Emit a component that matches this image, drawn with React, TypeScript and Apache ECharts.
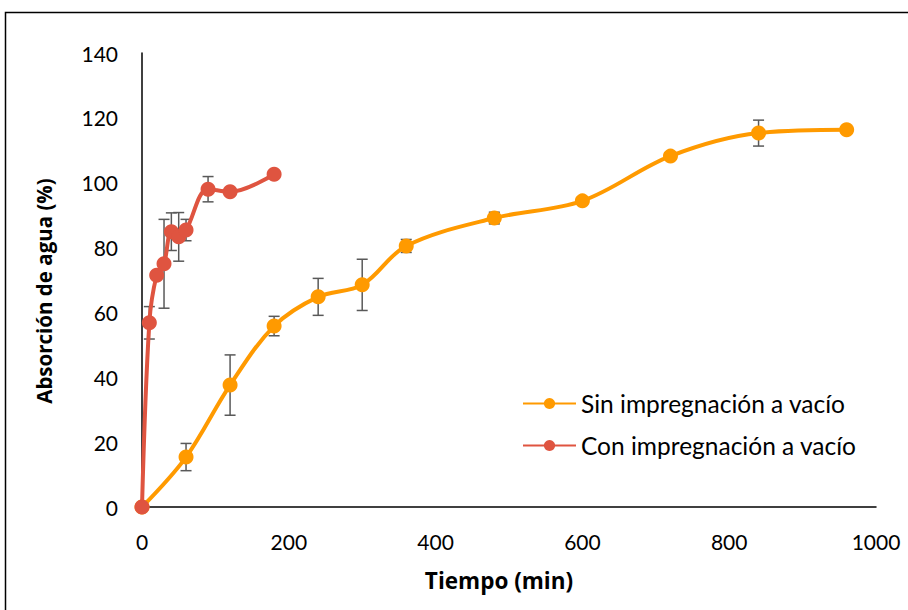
import React, { useEffect, useRef } from "react";
import * as echarts from "echarts";

const sinX = [0, 60, 120, 180, 240, 300, 360, 480, 600, 720, 840, 960];
const sinY = [0, 15.4, 37.6, 55.8, 64.8, 68.5, 80.5, 89.1, 94.4, 108.2, 115.3, 116.3];
const sinErr = [0, 4.2, 9.3, 3, 5.7, 7.9, 2, 1.8, 0, 0, 4, 0];

const conX = [0, 10, 20, 30, 40, 50, 60, 90, 120, 180];
const conY = [0, 56.8, 71.5, 75.0, 84.9, 83.3, 85.4, 98.0, 97.2, 102.6];
const conErr = [0, 5, 0, 13.7, 5.8, 7.5, 3.3, 3.9, 0, 0];

const xTicks = { min: 0, max: 1000, interval: 200 };
const yTicks = { min: 0, max: 140, interval: 20 };

const seriesNames = ["Sin impregnación a vacío", "Con impregnación a vacío"];

const FONT = "Lato, 'Open Sans', sans-serif";
const TITLE_FONT = "'Open Sans', Lato, sans-serif";

function errData(xs: number[], ys: number[], es: number[]) {
  const out: number[][] = [];
  xs.forEach((x, i) => {
    if (es[i] > 0) out.push([x, ys[i] - es[i], ys[i] + es[i]]);
  });
  return out;
}

function errSeries(data: number[][]) {
  return {
    type: "custom",
    silent: true,
    z: 1,
    data,
    renderItem: (params: any, api: any) => {
      const x = api.value(0);
      const lo = api.coord([x, api.value(1)]);
      const hi = api.coord([x, api.value(2)]);
      const cw = 5.5;
      const style = { stroke: "#595959", lineWidth: 1.5 };
      return {
        type: "group",
        children: [
          { type: "line", shape: { x1: lo[0], y1: lo[1], x2: hi[0], y2: hi[1] }, style },
          { type: "line", shape: { x1: lo[0] - cw, y1: lo[1], x2: lo[0] + cw, y2: lo[1] }, style },
          { type: "line", shape: { x1: hi[0] - cw, y1: hi[1], x2: hi[0] + cw, y2: hi[1] }, style },
        ],
      };
    },
  };
}

export default function App() {
  const ref = useRef<HTMLDivElement>(null);
  useEffect(() => {
    if (!ref.current) return;
    const chart = echarts.init(ref.current, undefined, { renderer: "svg" });
    const orange = "#FF9A00";
    const red = "#DF5440";
    chart.setOption({
      animation: false,
      backgroundColor: "#fff",
      textStyle: { fontFamily: FONT },
      grid: { left: 142, top: 53, right: 32, bottom: 103 },
      graphic: [
        {
          type: "rect",
          shape: { x: 5.5, y: 12.5, width: 1000, height: 1000 },
          style: { fill: "none", stroke: "#000", lineWidth: 1.5 },
          silent: true,
        },
      ],
      legend: {
        orient: "vertical",
        left: 517,
        top: 386,
        itemWidth: 53,
        itemHeight: 14,
        itemGap: 17,
        textStyle: { fontSize: 24.5, lineHeight: 24, color: "#000", fontFamily: FONT },
        data: seriesNames,
      },
      xAxis: {
        type: "value",
        min: xTicks.min,
        max: xTicks.max,
        interval: xTicks.interval,
        name: "Tiempo (min)",
        nameLocation: "middle",
        nameGap: 62,
        nameTextStyle: {
          fontSize: 22.5,
          fontWeight: "bold",
          color: "#000",
          fontFamily: TITLE_FONT,
          padding: [0, 20, 0, 0],
        },
        axisLine: { lineStyle: { color: "#000", width: 1.5 } },
        axisTick: { show: false },
        splitLine: { show: false },
        axisLabel: { fontSize: 21, color: "#000", margin: 24, fontFamily: FONT, formatter: (v: number) => String(v) },
      },
      yAxis: {
        type: "value",
        min: yTicks.min,
        max: yTicks.max,
        interval: yTicks.interval,
        name: "Absorción de agua (%)",
        nameLocation: "middle",
        nameGap: 88,
        nameTextStyle: {
          fontSize: 20.5,
          fontWeight: "bold",
          color: "#000",
          fontFamily: TITLE_FONT,
          padding: [0, 22, 0, 0],
        },
        axisLine: { show: true, lineStyle: { color: "#000", width: 1.5 } },
        axisTick: { show: false },
        splitLine: { show: false },
        axisLabel: { fontSize: 21, color: "#000", margin: 24, fontFamily: FONT, formatter: (v: number) => String(v) },
      },
      series: [
        errSeries(errData(sinX, sinY, sinErr)),
        errSeries(errData(conX, conY, conErr)),
        {
          name: seriesNames[0],
          type: "line",
          z: 3,
          smooth: 0.35,
          symbol: "circle",
          symbolSize: 15,
          itemStyle: { color: orange },
          lineStyle: { color: orange, width: 4 },
          data: sinX.map((x, i) => [x, sinY[i]]),
        },
        {
          name: seriesNames[1],
          type: "line",
          z: 4,
          smooth: 0.35,
          symbol: "circle",
          symbolSize: 15,
          itemStyle: { color: red },
          lineStyle: { color: red, width: 4 },
          data: conX.map((x, i) => [x, conY[i]]),
        },
      ],
    });
    return () => chart.dispose();
  }, []);
  return (
    <div
      ref={ref}
      style={{ position: "fixed", left: 0, top: 0, width: 908, height: 610 }}
    />
  );
}
